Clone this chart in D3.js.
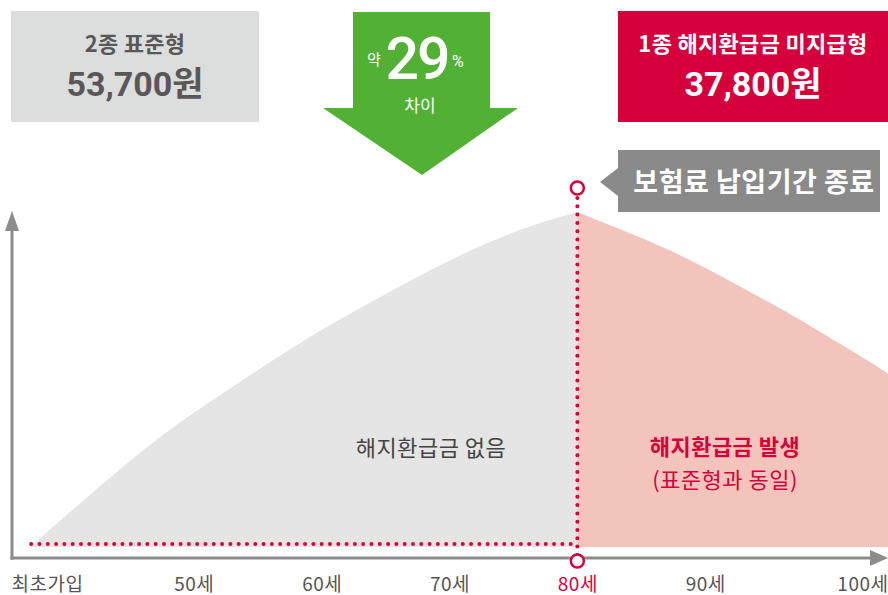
<!DOCTYPE html>
<html>
<head>
<meta charset="utf-8">
<script src="https://cdn.jsdelivr.net/npm/d3@7"></script>
<style>
body { margin: 0; background: #fff; }
svg { display: block; font-family: "Noto Sans CJK KR", "Noto Sans", sans-serif; }
.num { font-family: Roboto, "Noto Sans CJK KR", sans-serif; }
</style>
</head>
<body>
<svg id="chart"></svg>
<script>
// Data: refund curve (age -> relative refund value)
const entryAge = 37.2;
const endAge = 80;          // premium payment period ends
const beforeAges = [37.2, 42, 47.6, 53.1, 58.8, 64.3, 70, 75.5, 80];
const beforeValues = [0, 16, 33.5, 48, 62, 74, 85.5, 94.6, 100];
const afterAges = [80, 83.3, 87.3, 91.2, 95.1, 99, 102.9, 104.3];
const afterValues = [100, 94.9, 88.4, 80.9, 72.8, 64.2, 55.2, 51.6];

const tickAges = [37.2, 50, 60, 70, 80, 90, 100];
const tickLabels = ["최초가입", "50세", "60세", "70세", "80세", "90세", "100세"];

const typeTitles = ["2종 표준형", "1종 해지환급금 미지급형"];
const typePrices = ["53,700원", "37,800원"];
const diffPct = "29";

const W = 888, H = 595;
const red = "#d6003b", axisGray = "#8c8c8c";

const svg = d3.select("#chart")
    .attr("width", W)
    .attr("height", H);

// Scales
const x = d3.scaleLinear().domain([35.7, 104.3]).range([11, 888]);
const y = d3.scaleLinear().domain([0, 100]).range([547, 212]);
const axisY = 558;

// Areas
const area = d3.area()
    .x(d => x(d[0]))
    .y0(y(0))
    .y1(d => y(d[1]))
    .curve(d3.curveNatural);

svg.append("path")
    .datum(d3.zip(beforeAges, beforeValues))
    .attr("fill", "#e5e5e5")
    .attr("d", area);

svg.append("path")
    .datum(d3.zip(afterAges, afterValues))
    .attr("fill", "#f3c4bc")
    .attr("d", area);

// Axes with arrows
svg.append("line")
    .attr("x1", 12).attr("x2", 12)
    .attr("y1", axisY + 1.5).attr("y2", 228)
    .attr("stroke", axisGray).attr("stroke-width", 3);
svg.append("path")
    .attr("d", `M12,211 L19,231 L5,231 Z`)
    .attr("fill", axisGray);

svg.append("line")
    .attr("x1", 10.5).attr("x2", 872)
    .attr("y1", axisY).attr("y2", axisY)
    .attr("stroke", axisGray).attr("stroke-width", 3);
svg.append("path")
    .attr("d", `M888,${axisY} L870,${axisY - 8} L870,${axisY + 8} Z`)
    .attr("fill", axisGray);

// Tick labels
const xAxis = svg.append("g")
    .attr("transform", `translate(0,${axisY})`)
    .call(d3.axisBottom(x)
        .tickValues(tickAges)
        .tickFormat((d, i) => tickLabels[i])
        .tickSize(0));
xAxis.select(".domain").remove();
xAxis.selectAll("text")
    .attr("y", 0)
    .attr("dy", "33px")
    .style("font-family", '"Noto Sans CJK KR", sans-serif')
    .style("font-size", "19px")
    .style("letter-spacing", "0.5px")
    .attr("fill", (d, i) => tickAges[i] === endAge ? red : "#555");
xAxis.selectAll("text").filter((d, i) => i === 0)
    .attr("text-anchor", "start")
    .attr("x", x.range()[0] - x(tickAges[0]));
xAxis.selectAll("text").filter((d, i) => i === tickAges.length - 1)
    .attr("text-anchor", "end")
    .attr("x", x.range()[1] - x(tickAges[tickAges.length - 1]));

// Dotted red guides
svg.append("line")
    .attr("x1", x(entryAge) + 1).attr("x2", x(endAge))
    .attr("y1", y(0) - 3).attr("y2", y(0) - 3)
    .attr("stroke", red).attr("stroke-width", 4)
    .attr("stroke-linecap", "round")
    .attr("stroke-dasharray", "0 8.3");
svg.append("line")
    .attr("x1", x(endAge)).attr("x2", x(endAge))
    .attr("y1", 198).attr("y2", axisY)
    .attr("stroke", red).attr("stroke-width", 4)
    .attr("stroke-linecap", "round")
    .attr("stroke-dasharray", "0 8.3");

[188, axisY + 3].forEach(cy => {
    svg.append("circle")
        .attr("cx", x(endAge)).attr("cy", cy).attr("r", 6.5)
        .attr("fill", "#fff").attr("stroke", red).attr("stroke-width", 2.5);
});

// Region labels
svg.append("text")
    .attr("x", 431).attr("y", 456)
    .attr("text-anchor", "middle")
    .attr("fill", "#444").style("font-size", "22px").style("letter-spacing", "0.5px")
    .text("해지환급금 없음");
svg.append("text")
    .attr("x", 725).attr("y", 455)
    .attr("text-anchor", "middle")
    .attr("fill", red).style("font-size", "22px").style("font-weight", "bold").style("letter-spacing", "0.5px")
    .text("해지환급금 발생");
svg.append("text")
    .attr("x", 725).attr("y", 488)
    .attr("text-anchor", "middle")
    .attr("fill", red).style("font-size", "22px").style("letter-spacing", "0.5px")
    .text("(표준형과 동일)");

// Payment end tag
svg.append("path")
    .attr("d", "M618,150 L880,150 L880,212 L618,212 L618,196 L600,182 L618,168 Z")
    .attr("fill", "#8a8a8a");
svg.append("text")
    .attr("x", 754).attr("y", 192)
    .attr("text-anchor", "middle")
    .attr("fill", "#fff").style("font-size", "27px").style("font-weight", "bold").style("letter-spacing", "0.5px")
    .text("보험료 납입기간 종료");

// Price boxes
const boxes = [
    {x0: 11, x1: 259, fill: "#dcdddd", color: "#595757"},
    {x0: 618, x1: 888, fill: "#d5003b", color: "#fff"}
];
boxes.forEach((b, i) => {
    svg.append("rect")
        .attr("x", b.x0).attr("y", 11)
        .attr("width", b.x1 - b.x0).attr("height", 111)
        .attr("fill", b.fill);
    svg.append("text")
        .attr("x", (b.x0 + b.x1) / 2).attr("y", 52)
        .attr("text-anchor", "middle")
        .attr("fill", b.color).style("font-size", "22px").style("font-weight", "bold").style("letter-spacing", "0.3px")
        .text(typeTitles[i]);
    svg.append("text")
        .attr("class", "num")
        .attr("x", (b.x0 + b.x1) / 2).attr("y", 96)
        .attr("text-anchor", "middle")
        .attr("fill", b.color).style("font-size", "34px").style("font-weight", "bold")
        .text(typePrices[i]);
});

// Green difference arrow
svg.append("path")
    .attr("d", "M353,12 L490,12 L490,108 L518,108 L422,175 L323,108 L353,108 Z")
    .attr("fill", "#52b135");
svg.append("text")
    .attr("x", 374).attr("y", 65)
    .attr("text-anchor", "middle")
    .attr("fill", "#fff").style("font-size", "15px")
    .text("약");
svg.append("text")
    .attr("class", "num")
    .attr("x", 417).attr("y", 79)
    .attr("text-anchor", "middle")
    .attr("fill", "#fff").style("font-size", "59px").style("font-weight", "500").style("letter-spacing", "-2px")
    .text(diffPct);
svg.append("text")
    .attr("class", "num")
    .attr("x", 452).attr("y", 67)
    .attr("fill", "#fff").style("font-size", "16px")
    .text("%");
svg.append("text")
    .attr("x", 420).attr("y", 112)
    .attr("text-anchor", "middle")
    .attr("fill", "#fff").style("font-size", "17px")
    .text("차이");
</script>
</body>
</html>
